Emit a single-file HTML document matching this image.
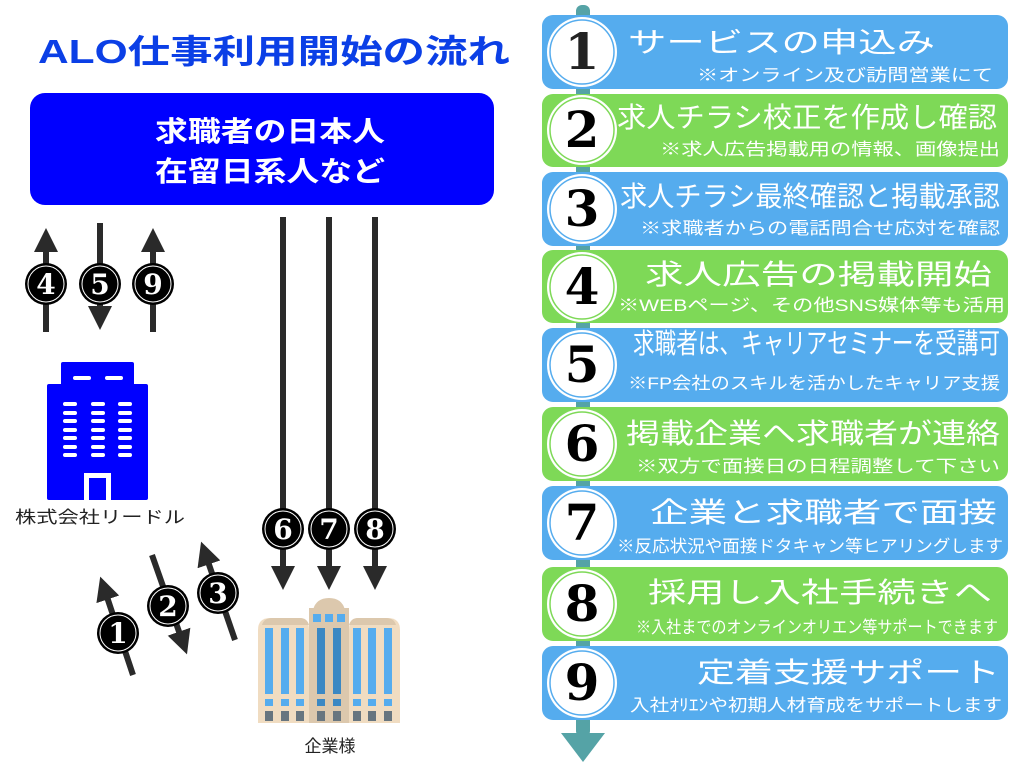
<!DOCTYPE html>
<html><head><meta charset="utf-8"><style>
html,body{margin:0;padding:0;background:#fff;width:1024px;height:768px;overflow:hidden}
svg{display:block}
text{font-family:"Liberation Sans","Noto Sans CJK JP",sans-serif}
.t{fill:#fff;font-size:28px}
.s{fill:#fff;font-size:17px}
.n{font-family:"DejaVu Serif","Liberation Serif",serif;font-weight:bold;text-anchor:middle}
</style></head><body>
<svg width="1024" height="768" viewBox="0 0 1024 768" xmlns="http://www.w3.org/2000/svg">
<defs>
<marker id="ah" markerWidth="4" markerHeight="4" refX="2" refY="2" orient="auto" markerUnits="strokeWidth">
<path d="M0,0 L4,2 L0,4 z" fill="#2a2a2a"/></marker>
</defs>
<text x="38" y="63" font-size="33" font-weight="bold" fill="#0b3fe6" textLength="472" lengthAdjust="spacingAndGlyphs">ALO仕事利用開始の流れ</text>
<rect x="30" y="93" width="464" height="112" rx="15" fill="#0000ff"/>
<text x="155" y="141" font-size="28" font-weight="bold" fill="#fff" textLength="230" lengthAdjust="spacingAndGlyphs">求職者の日本人</text>
<text x="155" y="181" font-size="28" font-weight="bold" fill="#fff" textLength="230" lengthAdjust="spacingAndGlyphs">在留日系人など</text>

<g stroke="#2a2a2a" stroke-width="6" fill="none">
<line x1="46" y1="332" x2="46" y2="240" marker-end="url(#ah)"/>
<line x1="100" y1="223" x2="100" y2="318" marker-end="url(#ah)"/>
<line x1="153" y1="332" x2="153" y2="240" marker-end="url(#ah)"/>
<line x1="283" y1="217" x2="283" y2="578" marker-end="url(#ah)"/>
<line x1="329" y1="217" x2="329" y2="578" marker-end="url(#ah)"/>
<line x1="375" y1="217" x2="375" y2="578" marker-end="url(#ah)"/>
<line x1="133" y1="675" x2="104" y2="588" marker-end="url(#ah)"/>
<line x1="152" y1="555" x2="183" y2="643" marker-end="url(#ah)"/>
<line x1="235" y1="640" x2="205" y2="553" marker-end="url(#ah)"/>
</g>
<g>
<g transform="translate(46,284)"><circle r="21" fill="#000"/><circle r="18" fill="none" stroke="#fff" stroke-width="1"/><text class="n" y="10" font-size="28" fill="#fff">4</text></g>
<g transform="translate(100,284)"><circle r="21" fill="#000"/><circle r="18" fill="none" stroke="#fff" stroke-width="1"/><text class="n" y="10" font-size="28" fill="#fff">5</text></g>
<g transform="translate(153,284)"><circle r="21" fill="#000"/><circle r="18" fill="none" stroke="#fff" stroke-width="1"/><text class="n" y="10" font-size="28" fill="#fff">9</text></g>
<g transform="translate(283,529)"><circle r="21" fill="#000"/><circle r="18" fill="none" stroke="#fff" stroke-width="1"/><text class="n" y="10" font-size="28" fill="#fff">6</text></g>
<g transform="translate(329,529)"><circle r="21" fill="#000"/><circle r="18" fill="none" stroke="#fff" stroke-width="1"/><text class="n" y="10" font-size="28" fill="#fff">7</text></g>
<g transform="translate(375,529)"><circle r="21" fill="#000"/><circle r="18" fill="none" stroke="#fff" stroke-width="1"/><text class="n" y="10" font-size="28" fill="#fff">8</text></g>
<g transform="translate(118,633)"><circle r="21" fill="#000"/><circle r="18" fill="none" stroke="#fff" stroke-width="1"/><text class="n" y="10" font-size="28" fill="#fff">1</text></g>
<g transform="translate(168,606)"><circle r="21" fill="#000"/><circle r="18" fill="none" stroke="#fff" stroke-width="1"/><text class="n" y="10" font-size="28" fill="#fff">2</text></g>
<g transform="translate(218,593)"><circle r="21" fill="#000"/><circle r="18" fill="none" stroke="#fff" stroke-width="1"/><text class="n" y="10" font-size="28" fill="#fff">3</text></g>
</g>

<rect x="61" y="362" width="73" height="30" rx="2" fill="#0000ff"/>
<rect x="47" y="384" width="101" height="116" rx="2" fill="#0000ff"/>
<g fill="#fff">
<rect x="73" y="376" width="18" height="4" rx="2"/><rect x="105" y="376" width="18" height="4" rx="2"/>
<g id="col">
<rect x="63" y="402" width="14" height="4" rx="2"/><rect x="63" y="411" width="14" height="4" rx="2"/><rect x="63" y="419" width="14" height="4" rx="2"/><rect x="63" y="428" width="14" height="4" rx="2"/><rect x="63" y="436" width="14" height="4" rx="2"/><rect x="63" y="445" width="14" height="4" rx="2"/><rect x="63" y="453" width="14" height="4" rx="2"/>
</g>
<use href="#col" x="28"/><use href="#col" x="55"/>
<rect x="84" y="473" width="27" height="27"/>
</g>
<rect x="89" y="478" width="17" height="22" fill="#0000ff"/>
<text x="15" y="523" font-size="17" fill="#222" textLength="170" lengthAdjust="spacingAndGlyphs">株式会社リードル</text>

<path d="M313,610 q3,-12 16,-12 q13,0 16,12 z" fill="#dcc8ad"/>
<rect x="309" y="608" width="40" height="115" fill="#dcc8ad"/>
<rect x="313" y="614" width="8" height="8" fill="#55acee"/><rect x="325" y="614" width="8" height="8" fill="#55acee"/><rect x="337" y="614" width="8" height="8" fill="#55acee"/>
<path d="M258,630 q0,-12 12,-12 h30 q9,0 9,12 v93 h-51 z" fill="#f0dcc1"/>
<path d="M349,630 q0,-12 9,-12 h30 q12,0 12,12 v93 h-51 z" fill="#f0dcc1"/>
<path d="M262,625 q2,-7 10,-7 h28 q7,0 9,7 z" fill="#dcc8ad"/>
<path d="M349,625 q2,-7 9,-7 h28 q8,0 10,7 z" fill="#dcc8ad"/>
<g fill="#55acee">
<rect x="265" y="628" width="8" height="66"/><rect x="281" y="628" width="8" height="66"/><rect x="296" y="628" width="8" height="66"/>
<rect x="353" y="628" width="8" height="66"/><rect x="368" y="628" width="8" height="66"/><rect x="384" y="628" width="8" height="66"/>
</g>
<rect x="317" y="628" width="8" height="66" fill="#3b88c3"/><rect x="333" y="628" width="8" height="66" fill="#3b88c3"/>
<g fill="#55acee"><rect x="265" y="699" width="8" height="7"/><rect x="281" y="699" width="8" height="7"/><rect x="296" y="699" width="8" height="7"/><rect x="353" y="699" width="8" height="7"/><rect x="368" y="699" width="8" height="7"/><rect x="384" y="699" width="8" height="7"/></g>
<rect x="317" y="699" width="8" height="7" fill="#3b88c3"/><rect x="333" y="699" width="8" height="7" fill="#3b88c3"/>
<g fill="#67757f"><rect x="265" y="711" width="8" height="10"/><rect x="281" y="711" width="8" height="10"/><rect x="296" y="711" width="8" height="10"/><rect x="317" y="711" width="8" height="10"/><rect x="333" y="711" width="8" height="10"/><rect x="353" y="711" width="8" height="10"/><rect x="368" y="711" width="8" height="10"/><rect x="384" y="711" width="8" height="10"/></g>
<text x="330" y="752" font-size="17" fill="#222" text-anchor="middle">企業様</text>

<rect x="576" y="5" width="14" height="732" rx="6" fill="#55a3a6"/>
<path d="M561,733 L605,733 L583,762 z" fill="#55a3a6"/>
<g>
<rect x="542" y="15" width="466" height="74" rx="11" fill="#55acee"/>
<rect x="542" y="94" width="466" height="73" rx="11" fill="#7ed957"/>
<rect x="542" y="172" width="466" height="74" rx="11" fill="#55acee"/>
<rect x="542" y="250" width="466" height="73" rx="11" fill="#7ed957"/>
<rect x="542" y="328" width="466" height="74" rx="11" fill="#55acee"/>
<rect x="542" y="407" width="466" height="74" rx="11" fill="#7ed957"/>
<rect x="542" y="486" width="466" height="74" rx="11" fill="#55acee"/>
<rect x="542" y="567" width="466" height="74" rx="11" fill="#7ed957"/>
<rect x="542" y="646" width="466" height="74" rx="11" fill="#55acee"/>
</g>
<g>
<g transform="translate(582,52)"><circle r="35" fill="#fff"/><circle r="32" fill="none" stroke="#55acee" stroke-width="1.5"/><text class="n" y="17" font-size="50" fill="#222">1</text></g>
<g transform="translate(582,130)"><circle r="35" fill="#fff"/><circle r="32" fill="none" stroke="#7ed957" stroke-width="1.5"/><text class="n" y="17" font-size="50" fill="#000">2</text></g>
<g transform="translate(582,209)"><circle r="35" fill="#fff"/><circle r="32" fill="none" stroke="#55acee" stroke-width="1.5"/><text class="n" y="17" font-size="50" fill="#000">3</text></g>
<g transform="translate(582,287)"><circle r="35" fill="#fff"/><circle r="32" fill="none" stroke="#7ed957" stroke-width="1.5"/><text class="n" y="17" font-size="50" fill="#000">4</text></g>
<g transform="translate(582,365)"><circle r="35" fill="#fff"/><circle r="32" fill="none" stroke="#55acee" stroke-width="1.5"/><text class="n" y="17" font-size="50" fill="#000">5</text></g>
<g transform="translate(582,444)"><circle r="35" fill="#fff"/><circle r="32" fill="none" stroke="#7ed957" stroke-width="1.5"/><text class="n" y="17" font-size="50" fill="#000">6</text></g>
<g transform="translate(582,523)"><circle r="35" fill="#fff"/><circle r="32" fill="none" stroke="#55acee" stroke-width="1.5"/><text class="n" y="17" font-size="50" fill="#000">7</text></g>
<g transform="translate(582,604)"><circle r="35" fill="#fff"/><circle r="32" fill="none" stroke="#7ed957" stroke-width="1.5"/><text class="n" y="17" font-size="50" fill="#000">8</text></g>
<g transform="translate(582,683)"><circle r="35" fill="#fff"/><circle r="32" fill="none" stroke="#55acee" stroke-width="1.5"/><text class="n" y="17" font-size="50" fill="#000">9</text></g>
</g>
<g>
<text class="t" x="628" y="52" font-size="32" textLength="307" lengthAdjust="spacingAndGlyphs">サービスの申込み</text>
<text class="s" x="697" y="81" textLength="296" lengthAdjust="spacingAndGlyphs">※オンライン及び訪問営業にて</text>
<text class="t" x="617" y="127" textLength="380" lengthAdjust="spacingAndGlyphs">求人チラシ校正を作成し確認</text>
<text class="s" x="660" y="155" font-size="18" textLength="340" lengthAdjust="spacingAndGlyphs">※求人広告掲載用の情報、画像提出</text>
<text class="t" x="620" y="206" textLength="380" lengthAdjust="spacingAndGlyphs">求人チラシ最終確認と掲載承認</text>
<text class="s" x="640" y="234" font-size="18" textLength="360" lengthAdjust="spacingAndGlyphs">※求職者からの電話問合せ応対を確認</text>
<text class="t" x="645" y="284" font-size="32" textLength="347" lengthAdjust="spacingAndGlyphs">求人広告の掲載開始</text>
<text class="s" x="618" y="311" font-size="18" textLength="387" lengthAdjust="spacingAndGlyphs">※WEBページ、その他SNS媒体等も活用</text>
<text class="t" x="633" y="353" font-size="20" textLength="367" lengthAdjust="spacingAndGlyphs">求職者は、キャリアセミナーを受講可</text>
<text class="s" x="628" y="389" textLength="372" lengthAdjust="spacingAndGlyphs">※FP会社のスキルを活かしたキャリア支援</text>
<text class="t" x="626" y="443" font-size="30" textLength="374" lengthAdjust="spacingAndGlyphs">掲載企業へ求職者が連絡</text>
<text class="s" x="636" y="472" font-size="18" textLength="364" lengthAdjust="spacingAndGlyphs">※双方で面接日の日程調整して下さい</text>
<text class="t" x="650" y="522" font-size="32" textLength="347" lengthAdjust="spacingAndGlyphs">企業と求職者で面接</text>
<text class="s" x="617" y="552" font-size="15" textLength="386" lengthAdjust="spacingAndGlyphs">※反応状況や面接ドタキャン等ヒアリングします</text>
<text class="t" x="648" y="602" font-size="32" textLength="344" lengthAdjust="spacingAndGlyphs">採用し入社手続きへ</text>
<text class="s" x="636" y="633" font-size="13" textLength="362" lengthAdjust="spacingAndGlyphs">※入社までのオンラインオリエン等サポートできます</text>
<text class="t" x="697" y="682" font-size="32" textLength="303" lengthAdjust="spacingAndGlyphs">定着支援サポート</text>
<text class="s" x="630" y="711" textLength="372" lengthAdjust="spacingAndGlyphs">入社ｵﾘｴﾝや初期人材育成をサポートします</text>
</g>
</svg>
</body></html>
